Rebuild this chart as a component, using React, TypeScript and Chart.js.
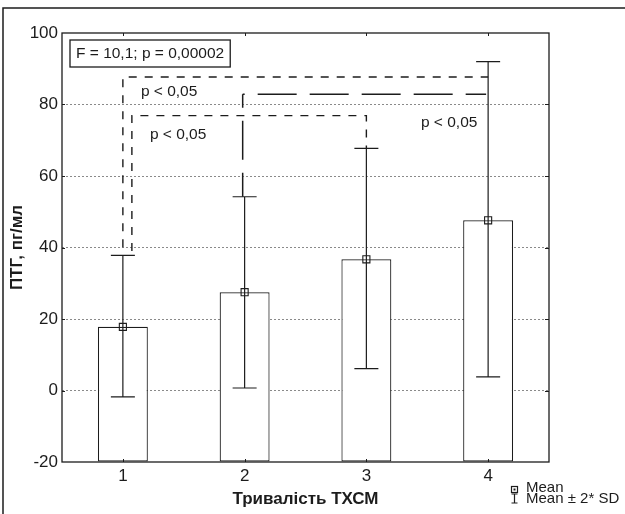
import React, { useEffect, useRef } from 'react';
import { Chart, registerables } from 'chart.js';

Chart.register(...registerables);

// ---- data ----
const categories = ['1', '2', '3', '4'];
const means = [17.8, 27.5, 36.7, 47.6];
const lowerSD = [-1.8, 0.7, 6.1, 3.8];
const upperSD = [37.8, 54.2, 67.7, 92.0];
const yMin = -20;
const yMax = 100;
const yStep = 20;

// significance brackets: [x start (category index), x end, level, left foot, right foot]
const bracket14 = [0, 3, 87.7, 40.1, NaN];
const bracket13 = [0.074, 2, 76.9, 39.0, 67.7];
const bracket24 = [0.984, 3, 82.9, 54.2, NaN];

const pLabels = ['p < 0,05', 'p < 0,05', 'p < 0,05'];
const pLabelX = [0.148, 0.222, 2.448];
const pLabelY = [82.4, 70.3, 73.8];

const statText = 'F = 10,1; p = 0,00002';
const xTitle = 'Тривалість ТХСМ';
const yTitle = 'ПТГ, пг/мл';
const legendLabels = ['Mean', 'Mean ± 2* SD'];

const FONT = '"Liberation Sans", Arial, sans-serif';
const INK = '#1c1c1c';

const deco = {
  id: 'deco',
  beforeDraw(chart: any) {
    const ctx = chart.ctx;
    ctx.save();
    ctx.fillStyle = '#ffffff';
    ctx.fillRect(0, 0, chart.width, chart.height);
    ctx.restore();
  },
  afterDatasetsDraw(chart: any) {
    const { ctx, chartArea: ca } = chart;
    const x = chart.scales.x;
    const y = chart.scales.y;
    ctx.save();

    // error bars (mean ± 2 SD)
    ctx.strokeStyle = INK;
    ctx.lineWidth = 1.2;
    categories.forEach((_, i) => {
      const px = x.getPixelForValue(i);
      const top = y.getPixelForValue(upperSD[i]);
      const bot = y.getPixelForValue(lowerSD[i]);
      ctx.beginPath();
      ctx.moveTo(px, top);
      ctx.lineTo(px, bot);
      ctx.moveTo(px - 12, top);
      ctx.lineTo(px + 12, top);
      ctx.moveTo(px - 12, bot);
      ctx.lineTo(px + 12, bot);
      ctx.stroke();
    });

    // short-dash brackets
    const shortBracket = (b: number[]) => {
      const x1 = x.getPixelForValue(b[0]);
      const x2 = x.getPixelForValue(b[1]);
      const yl = y.getPixelForValue(b[2]);
      ctx.beginPath();
      ctx.moveTo(x1, y.getPixelForValue(b[3]));
      ctx.lineTo(x1, yl);
      ctx.lineTo(x2, yl);
      if (!isNaN(b[4])) ctx.lineTo(x2, y.getPixelForValue(b[4]));
      ctx.stroke();
    };
    ctx.lineWidth = 1.4;
    ctx.setLineDash([8, 8]);
    shortBracket(bracket14);
    shortBracket(bracket13);

    // long-dash bracket
    ctx.lineWidth = 1.5;
    ctx.setLineDash([39, 13]);
    const cx1 = x.getPixelForValue(bracket24[0]);
    const cx2 = x.getPixelForValue(bracket24[1]) - 2;
    const cyl = y.getPixelForValue(bracket24[2]);
    ctx.lineDashOffset = 15;
    ctx.beginPath();
    ctx.moveTo(cx1, y.getPixelForValue(bracket24[3]));
    ctx.lineTo(cx1, cyl);
    ctx.stroke();
    ctx.lineDashOffset = 37;
    ctx.beginPath();
    ctx.moveTo(cx1, cyl);
    ctx.lineTo(cx2, cyl);
    ctx.stroke();
    ctx.setLineDash([]);
    ctx.lineDashOffset = 0;

    // p labels
    ctx.fillStyle = INK;
    ctx.font = `15.5px ${FONT}`;
    ctx.textAlign = 'left';
    ctx.textBaseline = 'alphabetic';
    pLabels.forEach((t, i) => {
      ctx.fillText(t, x.getPixelForValue(pLabelX[i]), y.getPixelForValue(pLabelY[i]));
    });

    // plot frame
    ctx.lineWidth = 1.3;
    ctx.strokeStyle = INK;
    ctx.strokeRect(ca.left, ca.top, ca.right - ca.left, ca.bottom - ca.top);

    // inner tick marks
    ctx.lineWidth = 1;
    ctx.beginPath();
    categories.forEach((_, i) => {
      const px = Math.round(x.getPixelForValue(i)) + 0.5;
      ctx.moveTo(px, ca.top);
      ctx.lineTo(px, ca.top + 3);
      ctx.moveTo(px, ca.bottom);
      ctx.lineTo(px, ca.bottom - 3);
    });
    for (let v = yMin + yStep; v < yMax; v += yStep) {
      const py = Math.round(y.getPixelForValue(v)) + 0.5;
      ctx.moveTo(ca.right, py);
      ctx.lineTo(ca.right - 4, py);
      ctx.moveTo(ca.left, py);
      ctx.lineTo(ca.left + 3, py);
    }
    ctx.stroke();

    // stats box
    ctx.font = `15.5px ${FONT}`;
    const tw = ctx.measureText(statText).width;
    const bx = ca.left + 8;
    const by = ca.top + 7;
    const bw = tw + 12;
    const bh = 27;
    ctx.lineWidth = 1.3;
    ctx.strokeRect(bx, by, bw, bh);
    ctx.textBaseline = 'middle';
    ctx.fillText(statText, bx + 6, by + bh / 2 + 0.5);

    // outer frame
    ctx.lineWidth = 1.5;
    ctx.beginPath();
    ctx.moveTo(3, chart.height);
    ctx.lineTo(3, 8);
    ctx.lineTo(chart.width, 8);
    ctx.stroke();

    // legend
    const lx = ca.right - 35;
    ctx.lineWidth = 1.2;
    ctx.strokeRect(lx - 2.5, 486.5, 6, 6);
    ctx.fillRect(lx - 0.5, 488.5, 2, 2);
    ctx.beginPath();
    ctx.moveTo(lx + 0.5, 494);
    ctx.lineTo(lx + 0.5, 503);
    ctx.moveTo(lx - 2.5, 494);
    ctx.lineTo(lx + 3.5, 494);
    ctx.moveTo(lx - 2.5, 503);
    ctx.lineTo(lx + 3.5, 503);
    ctx.stroke();
    ctx.font = `15px ${FONT}`;
    ctx.textBaseline = 'alphabetic';
    ctx.fillText(legendLabels[0], lx + 12, 491.5);
    ctx.fillText(legendLabels[1], lx + 12, 503);

    ctx.restore();
  },
};

export default function App() {
  const ref = useRef<HTMLCanvasElement>(null);
  useEffect(() => {
    document.body.style.margin = '0';
    const chart = new Chart(ref.current as HTMLCanvasElement, {
      type: 'bar',
      data: {
        labels: categories,
        datasets: [
          {
            type: 'bar',
            data: means,
            base: yMin,
            backgroundColor: '#ffffff',
            borderColor: INK,
            borderWidth: 1.2,
            borderSkipped: false,
            barPercentage: 0.41,
            categoryPercentage: 1,
            order: 2,
          } as any,
          {
            type: 'line',
            data: means,
            showLine: false,
            pointStyle: 'rect',
            pointRadius: 5,
            pointBackgroundColor: 'rgba(0,0,0,0)',
            pointBorderColor: INK,
            pointBorderWidth: 1.1,
            order: 1,
          } as any,
        ],
      },
      options: {
        responsive: false,
        animation: false,
        layout: { padding: { left: 0, top: 33, right: 76, bottom: 0 } },
        plugins: { legend: { display: false }, tooltip: { enabled: false } },
        scales: {
          x: {
            grid: { display: false, drawTicks: false },
            border: { display: false },
            ticks: { font: { family: FONT, size: 17 }, color: INK, padding: 4 },
            title: {
              display: true,
              text: xTitle,
              color: INK,
              font: { family: FONT, size: 17, weight: 'bold' },
              padding: { top: 0, bottom: 4 },
            },
            afterFit: (s: any) => {
              s.height = 52;
            },
          },
          y: {
            min: yMin,
            max: yMax,
            ticks: { stepSize: yStep, font: { family: FONT, size: 17 }, color: INK, padding: 4 },
            grid: {
              drawTicks: false,
              lineWidth: 1,
              color: (c: any) =>
                c.tick && (c.tick.value === yMin || c.tick.value === yMax) ? 'rgba(0,0,0,0)' : '#8a8a8a',
            },
            border: { display: false, dash: [2, 2] },
            title: {
              display: true,
              text: yTitle,
              color: INK,
              font: { family: FONT, size: 17, weight: 'bold' },
              padding: { top: 7, bottom: 0 },
            },
            afterFit: (s: any) => {
              s.width = 62;
            },
          },
        },
      } as any,
      plugins: [deco],
    });
    return () => chart.destroy();
  }, []);
  return (
    <div style={{ position: 'absolute', left: 0, top: 0, width: 625, height: 514 }}>
      <canvas ref={ref} width={625} height={514} style={{ display: 'block' }} />
    </div>
  );
}
